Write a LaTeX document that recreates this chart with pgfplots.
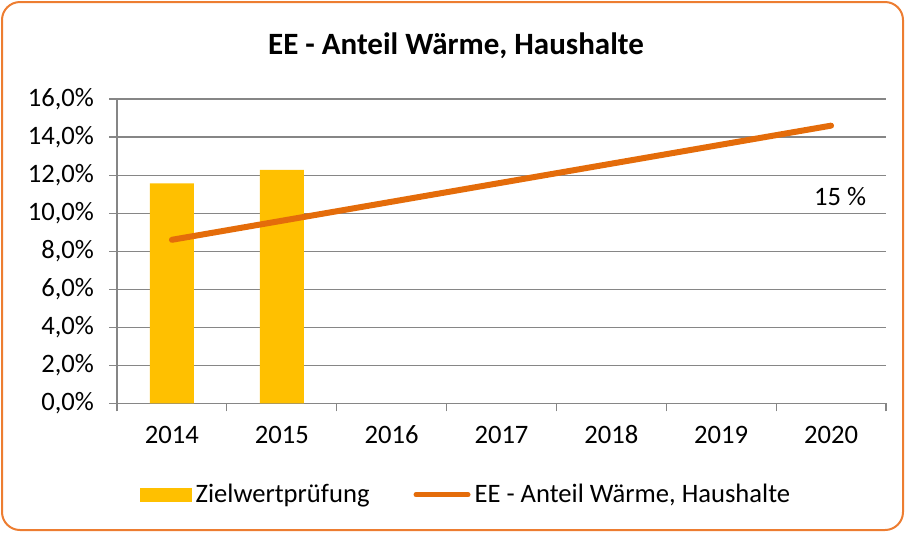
\documentclass[border=0pt]{standalone}
\usepackage{pgfplots}
\pgfplotsset{compat=1.18}
\usepackage{fontspec}
\setmainfont{Carlito}
\definecolor{frameorange}{RGB}{237,125,49}
\definecolor{lineorange}{RGB}{228,108,10}
\definecolor{baryellow}{RGB}{255,192,0}
\definecolor{gridgray}{RGB}{134,134,134}

\begin{document}
\begin{tikzpicture}
\path (0,0) rectangle (452.5pt,-266pt);
\draw[frameorange, line width=1pt, rounded corners=9pt] (1pt,-1pt) rectangle (451.5pt,-265pt);
\node[font=\fontsize{15.5}{18}\selectfont\bfseries] at (228pt,-23pt) {EE - Anteil Wärme, Haushalte};
\begin{axis}[
  at={(58.5pt,-201.7pt)}, anchor=south west,
  scale only axis, width=384.5pt, height=152.2pt,
  xmin=-0.5, xmax=6.5, ymin=0, ymax=16,
  xtick={-0.5,0.5,...,6.5}, x tick label as interval,
  xticklabels={2014,2015,2016,2017,2018,2019,2020},
  ytick={0,2,...,16},
  yticklabels={{0,0\%},{2,0\%},{4,0\%},{6,0\%},{8,0\%},{10,0\%},{12,0\%},{14,0\%},{16,0\%}},
  ymajorgrids, grid style={gridgray, line width=0.6pt},
  axis x line*=bottom, axis y line*=left,
  axis line style={gridgray, line width=0.6pt},
  tick style={gridgray, line width=0.6pt},
  tick align=outside, major tick length=4pt,
  tick label style={font=\fontsize{13.3}{15}\selectfont, black},
  xticklabel style={anchor=north, text height=8.6pt, text depth=0pt, yshift=-4pt},
  yticklabel style={xshift=-4pt},
  legend style={at={(0.455,-0.3)}, anchor=center, draw=none, fill=none,
    legend columns=2, font=\fontsize{13.3}{15}\selectfont,
    /tikz/every even column/.append style={column sep=20pt}},
]
\addplot[ybar, bar width=22pt, fill=baryellow, draw=none,
  legend image code/.code={\fill[baryellow] (0pt,-3.5pt) rectangle (26pt,3.5pt);}]
  coordinates {(0,11.57) (1,12.27)};
\addlegendentry{Zielwertprüfung}
\addplot[lineorange, line width=3pt, line cap=round, mark=none,
  legend image code/.code={\draw[lineorange, line width=2.5pt, line cap=round] (0pt,0pt) -- (26pt,0pt);}]
  coordinates {(0,8.6) (1,9.6) (2,10.6) (3,11.6) (4,12.6) (5,13.6) (6,14.6)};
\addlegendentry{EE - Anteil Wärme, Haushalte}
\node[font=\fontsize{13.3}{15}\selectfont, xshift=4.5pt] at (axis cs:6,10.9) {15 \%};
\end{axis}
\end{tikzpicture}
\end{document}
